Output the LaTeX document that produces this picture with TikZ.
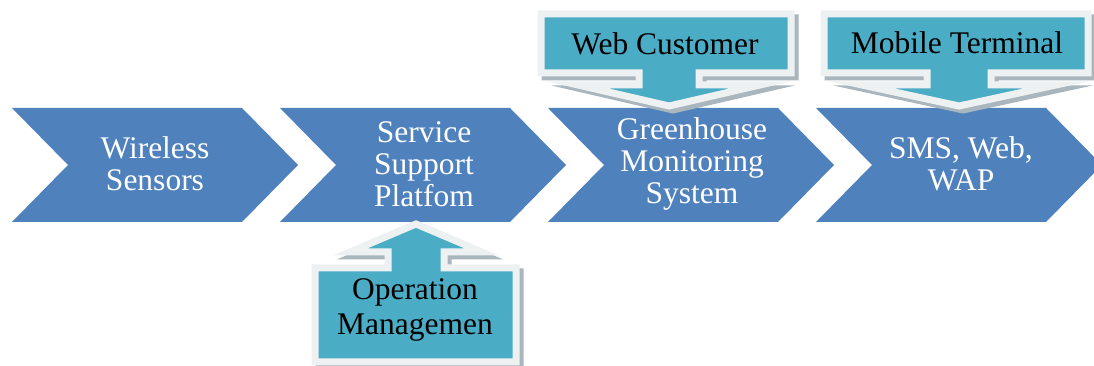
\documentclass[tikz,border=0pt]{standalone}
\usepackage{fontspec}
\setmainfont{Liberation Serif}
\usetikzlibrary{positioning}

\definecolor{chevblue}{HTML}{4F81BD}
\definecolor{callteal}{HTML}{4BACC6}
\definecolor{callframe}{HTML}{EEF1F2}
\definecolor{callshade}{HTML}{A9B6BD}

\begin{document}
\begin{tikzpicture}[
    x=1pt, y=1pt,
    chevron/.style={fill=chevblue},
    chevtext/.style={text=white, align=center, inner sep=0pt, font=\fontsize{31.5}{32}\selectfont},
    callout/.style={preaction={fill=callshade, draw=callshade, line width=7pt, transform canvas={shift={(4pt,-4pt)}}},
                    fill=callteal, draw=callframe, line width=7pt, line join=miter},
    calltext/.style={text=black, align=center, inner sep=0pt, font=\fontsize{31.5}{35}\selectfont}
]
    \clip (0,0) rectangle (1094,366);

    % Chevrons (main flow)
    \fill[chevron] (12,258) -- (242,258) -- (298,201) -- (242,144) -- (12,144) -- (68,201) -- cycle;
    \fill[chevron] (280,258) -- (510,258) -- (566,201) -- (510,144) -- (280,144) -- (336,201) -- cycle;
    \fill[chevron] (548,258) -- (778,258) -- (834,201) -- (778,144) -- (548,144) -- (604,201) -- cycle;
    \fill[chevron] (816,258) -- (1046,258) -- (1102,201) -- (1046,144) -- (816,144) -- (872,201) -- cycle;

    \node[chevtext] (sensors) at (155,202) {Wireless\\Sensors};
    \node[chevtext] (platform) at (424,202) {Service\\Support\\Platfom};
    \node[chevtext] (greenhouse) at (692,202) {Greenhouse\\Monitoring\\System};
    \node[chevtext] (sms) at (961,202) {SMS, Web,\\WAP};

    % Callouts
    \draw[callout] (541,352) -- (791,352) -- (791,293) -- (699,293) -- (699,281) -- (760,281)
        -- (669,260) -- (578,281) -- (639,281) -- (639,293) -- (541,293) -- cycle;
    \draw[callout] (824,352) -- (1088,352) -- (1088,293) -- (991,293) -- (991,281) -- (1056,281)
        -- (959,260) -- (862,281) -- (927,281) -- (927,293) -- (824,293) -- cycle;
    \draw[callout] (315,4) -- (516,4) -- (516,98) -- (444,98) -- (444,114) -- (482,114)
        -- (416,142) -- (350,114) -- (388,114) -- (388,98) -- (315,98) -- cycle;

    \node[calltext, anchor=base] (webcust) at (665,311) {Web Customer};
    \node[calltext, anchor=base] (mobile) at (957,312) {Mobile Terminal};
    \node[calltext] (operation) at (415,56) {Operation\\Managemen};
\end{tikzpicture}
\end{document}
